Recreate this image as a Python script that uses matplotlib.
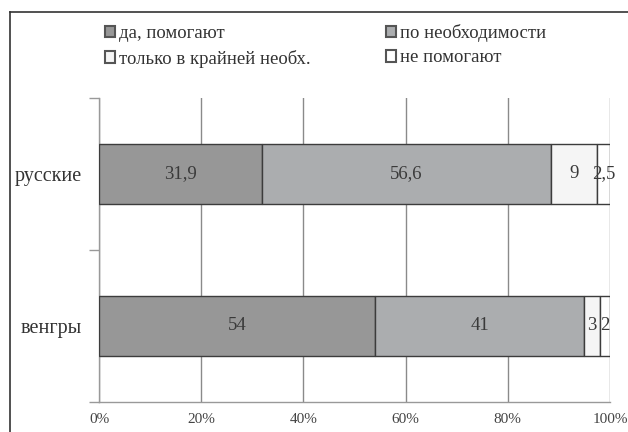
import matplotlib
matplotlib.use("Agg")
import matplotlib.pyplot as plt
from matplotlib.patches import Patch
from matplotlib.lines import Line2D
import numpy as np

plt.rcParams['font.family'] = ['Liberation Serif', 'DejaVu Serif']

categories = ["венгры", "русские"]
series_names = ["да, помогают", "по необходимости", "только в крайней необх.", "не помогают"]
values = {
    "да, помогают": [54, 31.9],
    "по необходимости": [41, 56.6],
    "только в крайней необх.": [3, 9],
    "не помогают": [2, 2.5],
}
value_labels = {
    "да, помогают": ["54", "31,9"],
    "по необходимости": ["41", "56,6"],
    "только в крайней необх.": ["3", "9"],
    "не помогают": ["2", "2,5"],
}
tick_labels = ["0%", "20%", "40%", "60%", "80%", "100%"]

colors = ["#979797", "#abadaf", "#f5f5f5", "#ffffff"]
edge = "#3c3c3c"

fig = plt.figure(figsize=(6.28, 4.32), dpi=100)
ax = fig.add_axes([99/628, 1-402/432, 511/628, 304/432])

y = np.arange(len(categories))
left = np.zeros(len(categories))
for name, col in zip(series_names, colors):
    vals = np.array(values[name], dtype=float)
    ax.barh(y, vals, left=left, height=0.4, color=col, edgecolor=edge,
            linewidth=1.0, zorder=3)
    for yi, (l, v, lab) in enumerate(zip(left, vals, value_labels[name])):
        ax.text(l + v/2, yi, lab, ha="center", va="center", fontsize=13.5,
                color="#3a3a3a", zorder=4)
    left += vals

ax.set_xlim(0, 100)
ax.set_ylim(-0.5, 1.5)
ax.set_xticks(np.arange(0, 101, 20))
ax.set_xticklabels(tick_labels, fontsize=11, color="#444444")
ax.set_yticks(y)
ax.set_yticklabels(categories, fontsize=14.5, color="#333333")
ax.tick_params(axis="y", length=0, pad=12)
ax.tick_params(axis="x", length=0, pad=8)
ax.set_yticks([-0.5, 0.5, 1.5], minor=True)
ax.tick_params(axis="y", which="minor", length=7, color="#999999", width=1)
ax.xaxis.grid(True, color="#8a8a8a", linewidth=1.0, zorder=0)
for s in ["top", "right"]:
    ax.spines[s].set_visible(False)
for s in ["left", "bottom"]:
    ax.spines[s].set_color("#999999")
    ax.spines[s].set_linewidth(1.0)

# legend: two rows, two columns
handles = [Patch(facecolor=c, edgecolor="#555555", linewidth=1.5) for c in colors]
order = [0, 2, 1, 3]
leg = fig.legend([handles[i] for i in order], [series_names[i] for i in order],
                 loc="upper left", bbox_to_anchor=(105/628, 1-24/432), ncol=2,
                 frameon=False, fontsize=13.5, handlelength=0.55, handleheight=0.55,
                 handletextpad=0.2, columnspacing=4.0, labelspacing=0.4,
                 borderaxespad=0, borderpad=0)
for t in leg.get_texts():
    t.set_color("#333333")

# frame lines along the top and left edges of the figure
fig.add_artist(Line2D([10/628, 1], [1-12/432, 1-12/432], transform=fig.transFigure,
                      color="#333333", linewidth=1.2))
fig.add_artist(Line2D([10/628, 10/628], [0, 1-12/432], transform=fig.transFigure,
                      color="#333333", linewidth=1.2))

fig.savefig("out.png", dpi=100)
